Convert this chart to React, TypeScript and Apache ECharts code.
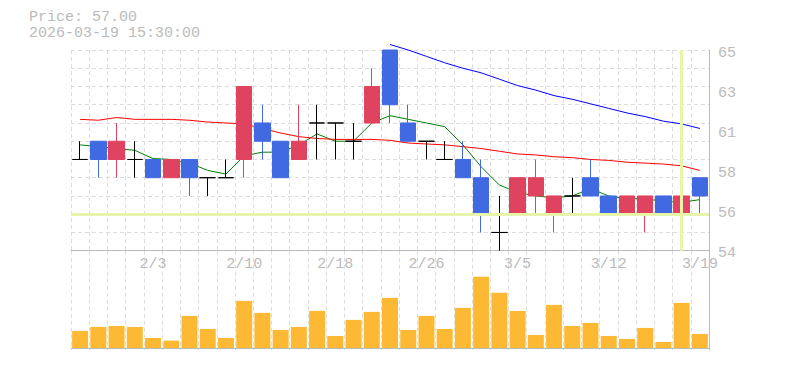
import React, { useEffect, useRef } from 'react';
import * as echarts from 'echarts';

const dates = ['1/28','1/29','1/30','2/2','2/3','2/4','2/5','2/6','2/9','2/10','2/12','2/13','2/16','2/17','2/18','2/19','2/20','2/24','2/25','2/26','2/27','3/2','3/3','3/4','3/5','3/6','3/9','3/10','3/11','3/12','3/13','3/16','3/17','3/18','3/19'];
const xTickLabels = ['2/3', '2/10', '2/18', '2/26', '3/5', '3/12', '3/19'];

const opens  = [59, 60, 59, 59, 59, 58, 59, 58, 58, 59, 61, 60, 59, 61, 61, 60, 61, 65, 61, 60, 59, 59, 58, 55, 56, 57, 56, 57, 58, 57, 56, 56, 57, 56, 58];
const closes = [59, 59, 60, 59, 58, 59, 58, 58, 58, 63, 60, 58, 60, 61, 61, 60, 63, 62, 60, 60, 59, 58, 56, 55, 58, 58, 57, 57, 57, 56, 57, 57, 56, 57, 57];
const lows   = [59, 58, 58, 58, 58, 58, 57, 57, 58, 58, 59, 58, 59, 59, 59, 59, 61, 61, 60, 59, 59, 58, 55, 54, 56, 56, 55, 56, 57, 56, 56, 55, 56, 55, 56];
const highs  = [60, 60, 61, 60, 59, 59, 59, 58, 59, 63, 62, 60, 62, 62, 61, 61, 64, 65, 62, 60, 60, 60, 59, 57, 58, 59, 57, 58, 59, 57, 57, 57, 57, 58, 58];

const ma5  = [59.8, 59.7, 59.6, 59.5, 59.05, 59.0, 58.8, 58.4, 58.2, 59.2, 59.4, 59.4, 59.8, 60.4, 60.0, 60.0, 61.0, 61.4, 61.2, 61.0, 60.8, 59.8, 58.6, 57.6, 57.2, 57.0, 56.9, 57.0, 57.4, 57.0, 56.85, 56.85, 56.7, 56.65, 56.8];
const ma25 = [61.2, 61.15, 61.3, 61.2, 61.2, 61.2, 61.15, 61.05, 61.0, 60.95, 60.7, 60.45, 60.25, 60.15, 60.1, 60.1, 60.1, 60.05, 59.9, 59.85, 59.8, 59.7, 59.6, 59.45, 59.3, 59.25, 59.15, 59.1, 59.0, 58.95, 58.85, 58.8, 58.75, 58.65, 58.4];
const ma75 = [null, null, null, null, null, null, null, null, null, null, null, null, null, null, null, null, null, 65.3, 65.0, 64.65, 64.3, 64.0, 63.75, 63.4, 63.05, 62.8, 62.5, 62.3, 62.05, 61.8, 61.55, 61.35, 61.1, 60.95, 60.7];

const volumes = [51000, 63000, 66000, 63000, 30000, 22000, 96000, 57000, 30000, 141000, 105000, 54000, 63000, 111000, 36000, 84000, 108000, 150000, 54000, 96000, 57000, 120000, 213000, 165000, 111000, 39000, 129000, 66000, 75000, 36000, 27000, 60000, 18000, 135000, 42000];

const priceTickLabels = ['54', '56', '58', '61', '63', '65'];
const priceMin = 54;
const priceMax = 65;
const highlightPrice = 56;
const highlightDate = '3/18';

const titleLine1 = 'Price: 57.00';
const titleLine2 = '2026-03-19 15:30:00';

const FONT = '"Liberation Mono", "DejaVu Sans Mono", monospace';
const GRAY = '#bbbbbb';
const GRID = '#dddddd';
const UP = '#e0435f';
const DOWN = '#4169e1';

export default function App() {
  const ref = useRef<HTMLDivElement>(null);
  useEffect(() => {
    if (!ref.current) return;
    const chart = echarts.init(ref.current, null, { renderer: 'svg' });
    const candleData = dates.map((_, i) => {
      const v = [opens[i], closes[i], lows[i], highs[i]];
      if (opens[i] === closes[i]) {
        return { value: v, itemStyle: { color: '#000', color0: '#000', borderColor: '#000', borderColor0: '#000' } };
      }
      return { value: v };
    });
    const option: any = {
      animation: false,
      grid: [
        { left: 71, top: 50, width: 638, height: 200.7 },
        { left: 71, top: 250.7, width: 638, height: 99.3 },
      ],
      graphic: [
        { type: 'text', x: 29, y: 17.5, style: { text: titleLine1, fill: GRAY, fontSize: 15, lineHeight: 14, fontFamily: FONT, verticalAlign: 'middle' } },
        { type: 'text', x: 29, y: 33.5, style: { text: titleLine2, fill: GRAY, fontSize: 15, lineHeight: 14, fontFamily: FONT, verticalAlign: 'middle' } },
      ],
      xAxis: [
        {
          type: 'category', gridIndex: 0, data: dates, boundaryGap: true,
          axisLine: { show: true, lineStyle: { color: GRAY } },
          axisTick: { show: false },
          axisLabel: {
            color: GRAY, fontFamily: FONT, fontSize: 15, margin: 6,
            interval: (_i: number, v: string) => xTickLabels.includes(v),
          },
          splitLine: { show: true, interval: 0, lineStyle: { color: GRID, type: [4, 3] } },
        },
        {
          type: 'category', gridIndex: 1, data: dates, boundaryGap: true,
          axisLine: { show: true, lineStyle: { color: GRAY } },
          axisTick: { show: false },
          axisLabel: { show: false },
          splitLine: { show: true, interval: 0, lineStyle: { color: GRID, type: [4, 3] } },
        },
      ],
      yAxis: [
        {
          type: 'value', gridIndex: 0, min: priceMin, max: priceMax, interval: 1, position: 'left',
          axisLine: { show: false }, axisTick: { show: false }, axisLabel: { show: false },
          splitLine: { show: true, lineStyle: { color: GRID, type: [4, 3] } },
        },
        {
          type: 'value', gridIndex: 0, min: 0, max: priceTickLabels.length - 1, interval: 1, position: 'right',
          axisLine: { show: true, lineStyle: { color: GRAY } }, axisTick: { show: false },
          splitLine: { show: false },
          axisLabel: {
            color: GRAY, fontFamily: FONT, fontSize: 15, margin: 9, verticalAlign: 'top', lineHeight: 6,
            formatter: (v: number) => priceTickLabels[Math.round(v)],
          },
        },
        {
          type: 'value', gridIndex: 1, min: -6000, max: 291000, position: 'right',
          axisLine: { show: true, lineStyle: { color: GRAY } }, axisTick: { show: false },
          axisLabel: { show: false }, splitLine: { show: false },
        },
      ],
      series: [
        {
          type: 'line', xAxisIndex: 0, yAxisIndex: 0, data: [], z: 1, silent: true,
          markLine: {
            silent: true, symbol: ['none', 'none'], label: { show: false },
            lineStyle: { color: '#e6f5a9', width: 3, type: 'solid' },
            data: [{ yAxis: highlightPrice }, { xAxis: highlightDate }],
          },
        },
        { type: 'line', name: 'MA5', xAxisIndex: 0, yAxisIndex: 0, data: ma5, showSymbol: false, symbol: 'none', z: 2, lineStyle: { color: '#008000', width: 1 } },
        { type: 'line', name: 'MA25', xAxisIndex: 0, yAxisIndex: 0, data: ma25, showSymbol: false, symbol: 'none', z: 2, lineStyle: { color: '#ff0000', width: 1 } },
        { type: 'line', name: 'MA75', xAxisIndex: 0, yAxisIndex: 0, data: ma75, showSymbol: false, symbol: 'none', z: 2, clip: false, lineStyle: { color: '#0000ff', width: 1 } },
        {
          type: 'candlestick', xAxisIndex: 0, yAxisIndex: 0, data: candleData, barWidth: 16, z: 3,
          itemStyle: { color: UP, color0: DOWN, borderColor: UP, borderColor0: DOWN, borderWidth: 1 },
        },
        {
          type: 'bar', xAxisIndex: 1, yAxisIndex: 2, data: volumes, barWidth: 16,
          itemStyle: { color: '#fdb933' },
        },
      ],
    };
    chart.setOption(option);
    return () => chart.dispose();
  }, []);
  return <div ref={ref} style={{ position: 'absolute', left: 0, top: 0, width: 785, height: 370 }} />;
}
